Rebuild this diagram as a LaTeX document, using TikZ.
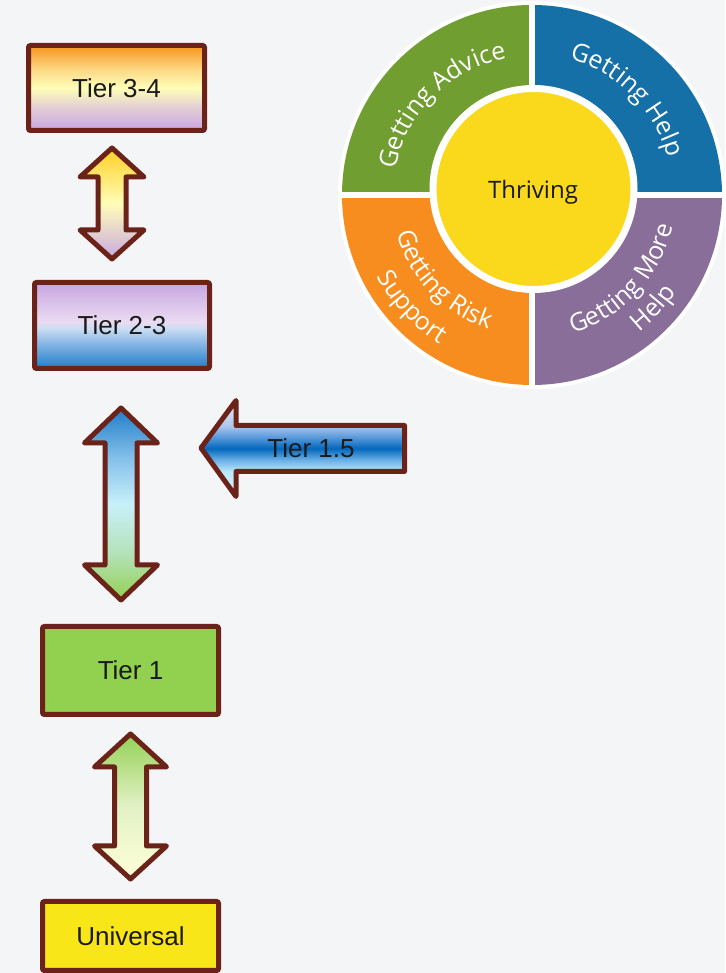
\documentclass[tikz,border=0pt]{standalone}
\usepackage{fontspec}
\setmainfont{Liberation Sans}
\newfontfamily\wheelfont{Open Sans}
\usetikzlibrary{decorations.text}

\definecolor{bg}{HTML}{F4F5F7}
\definecolor{edge}{HTML}{6B2219}
\definecolor{ink}{HTML}{1A1A1A}
\definecolor{tgreen}{HTML}{92D050}
\definecolor{tyellow}{HTML}{F9E619}
\definecolor{wgreen}{HTML}{719E31}
\definecolor{wblue}{HTML}{1670A8}
\definecolor{worange}{HTML}{F78D1E}
\definecolor{wpurple}{HTML}{896E9A}
\definecolor{wyellow}{HTML}{FAD81C}

% shadings (bottom -> top, the path fills 25bp..75bp)
\pgfdeclareverticalshading{sTthree}{100bp}{color(0bp)=(rgb,255:red,201;green,165;blue,226); color(25bp)=(rgb,255:red,201;green,165;blue,226); color(38bp)=(rgb,255:red,226;green,204;blue,214); color(50bp)=(rgb,255:red,255;green,254;blue,184); color(60bp)=(rgb,255:red,253;green,220;blue,138); color(75bp)=(rgb,255:red,247;green,148;blue,29); color(100bp)=(rgb,255:red,247;green,148;blue,29)}
\pgfdeclareverticalshading{sAone}{100bp}{color(0bp)=(rgb,255:red,200;green,168;blue,226); color(25bp)=(rgb,255:red,200;green,168;blue,226); color(50bp)=(rgb,255:red,255;green,253;blue,184); color(75bp)=(rgb,255:red,255;green,207;blue,34); color(100bp)=(rgb,255:red,255;green,207;blue,34)}
\pgfdeclareverticalshading{sTtwo}{100bp}{color(0bp)=(rgb,255:red,30;green,125;blue,202); color(25bp)=(rgb,255:red,30;green,125;blue,202); color(40bp)=(rgb,255:red,138;green,184;blue,230); color(48bp)=(rgb,255:red,200;green,220;blue,242); color(52bp)=(rgb,255:red,234;green,220;blue,242); color(75bp)=(rgb,255:red,199;green,165;blue,224); color(100bp)=(rgb,255:red,199;green,165;blue,224)}
\pgfdeclareverticalshading{sAtwo}{100bp}{color(0bp)=(rgb,255:red,146;green,208;blue,80); color(25bp)=(rgb,255:red,146;green,208;blue,80); color(37bp)=(rgb,255:red,180;green,226;blue,184); color(50bp)=(rgb,255:red,200;green,240;blue,250); color(62bp)=(rgb,255:red,132;green,192;blue,234); color(75bp)=(rgb,255:red,31;green,124;blue,200); color(100bp)=(rgb,255:red,31;green,124;blue,200)}
\pgfdeclareverticalshading{sAhalf}{100bp}{color(0bp)=(rgb,255:red,216;green,246;blue,255); color(25bp)=(rgb,255:red,216;green,246;blue,255); color(38bp)=(rgb,255:red,188;green,232;blue,250); color(44bp)=(rgb,255:red,106;green,176;blue,230); color(50bp)=(rgb,255:red,4;green,104;blue,188); color(56bp)=(rgb,255:red,90;green,154;blue,220); color(62bp)=(rgb,255:red,176;green,200;blue,236); color(75bp)=(rgb,255:red,238;green,230;blue,248); color(100bp)=(rgb,255:red,238;green,230;blue,248)}
\pgfdeclareverticalshading{sAthree}{100bp}{color(0bp)=(rgb,255:red,255;green,255;blue,216); color(25bp)=(rgb,255:red,255;green,255;blue,216); color(50bp)=(rgb,255:red,226;green,241;blue,198); color(75bp)=(rgb,255:red,148;green,209;blue,85); color(100bp)=(rgb,255:red,148;green,209;blue,85)}

\begin{document}
\begin{tikzpicture}[x=1pt, y=1pt,
		box/.style  = {rectangle, draw=edge, line width=5pt, rounded corners=2pt, inner sep=0pt, text=ink, font=\fontsize{26}{31}\selectfont},
		arr/.style  = {draw=edge, line width=5pt, line join=round},
		gap/.style  = {white, line width=6pt},
		wtxt/.style = {decorate, decoration={text along path, text align=center, text={|\wheelfont\fontsize{25}{30}\selectfont\color{white}|#1}}}
		]
		
		\useasboundingbox (0,0) rectangle (725,973);
		\fill[bg] (0,0) rectangle (725,973);
		
		% === === Tier boxes === ===
		\node[box, shade, shading=sTthree, minimum width=176pt, minimum height=85pt]	(t34)	at (116.5,885)		{Tier 3-4};
		\node[box, shade, shading=sTtwo, minimum width=175pt, minimum height=86pt]	(t23)	at (122,647.5)		{Tier 2-3};
		\node[box, fill=tgreen, minimum width=176pt, minimum height=88pt]				(t1)	at (130.5,302.5)	{Tier 1};
		\node[box, fill=tyellow, minimum width=176pt, minimum height=69pt]				(univ)	at (130.5,37)		{Universal};
		
		% === === Block arrows === ===
		\shadedraw[arr, shading=sAone]	(112,825) -- (144,796) -- (126,796) -- (126,743) -- (144,743) -- (112,714)
			-- (80,743) -- (98,743) -- (98,796) -- (80,796) -- cycle;
		\shadedraw[arr, shading=sAtwo]	(121,565) -- (157.5,530) -- (137,530) -- (137,408) -- (157.5,408) -- (121,373)
			-- (84.5,408) -- (105,408) -- (105,530) -- (84.5,530) -- cycle;
		\shadedraw[arr, shading=sAthree]	(130.5,239) -- (166.5,206) -- (146.5,206) -- (146.5,127) -- (166.5,127) -- (130.5,94)
			-- (94.5,127) -- (114.5,127) -- (114.5,206) -- (94.5,206) -- cycle;
		\shadedraw[arr, shading=sAhalf]	(201,525) -- (236,572.5) -- (236,547.5) -- (404.5,547.5) -- (404.5,501.5)
			-- (236,501.5) -- (236,476.5) -- cycle;
		\node[text=ink, font=\fontsize{26}{31}\selectfont]	(t15)	at (311,525)	{Tier 1.5};
		
		% === === Wheel === ===
		\coordinate (wc) at (532,778);
		\fill[white] (wc) circle[radius=194];
		\fill[wgreen]	(wc) -- ++(180:190) arc[start angle=180, end angle=90, radius=190] -- cycle;
		\fill[wblue]	(wc) -- ++(90:190) arc[start angle=90, end angle=0, radius=190] -- cycle;
		\fill[wpurple]	(wc) -- ++(0:190) arc[start angle=0, end angle=-90, radius=190] -- cycle;
		\fill[worange]	(wc) -- ++(-90:190) arc[start angle=-90, end angle=-180, radius=190] -- cycle;
		\draw[gap] ([xshift=-192pt]wc) -- ([xshift=192pt]wc);
		\draw[gap] ([yshift=-192pt]wc) -- ([yshift=192pt]wc);
		
		\node[circle, fill=wyellow, draw=white, line width=7pt, minimum size=201pt, inner sep=0pt]	(core)	at (533.5,784)	{};
		\node[text=ink, font=\wheelfont\fontsize{24}{29}\selectfont]	(thriving)	at (533,781)	{Thriving};
		
		\path[wtxt={Getting Advice}]	([shift={(178:139)}]wc) arc[start angle=178, end angle=92, radius=139];
		\path[wtxt={Getting Help}]		([shift={(88:141)}]wc) arc[start angle=88, end angle=2, radius=141];
		\path[wtxt={Getting Risk}]		([shift={(182:141)}]wc) arc[start angle=182, end angle=266, radius=141];
		\path[wtxt={Support}]			([shift={(181:175)}]wc) arc[start angle=181, end angle=265, radius=175];
		\path[wtxt={Getting More}]		([shift={(-86:144)}]wc) arc[start angle=-86, end angle=0, radius=144];
		\path[wtxt={Help}]				([shift={(-86:174)}]wc) arc[start angle=-86, end angle=0, radius=174];
		
	\end{tikzpicture}
\end{document}
